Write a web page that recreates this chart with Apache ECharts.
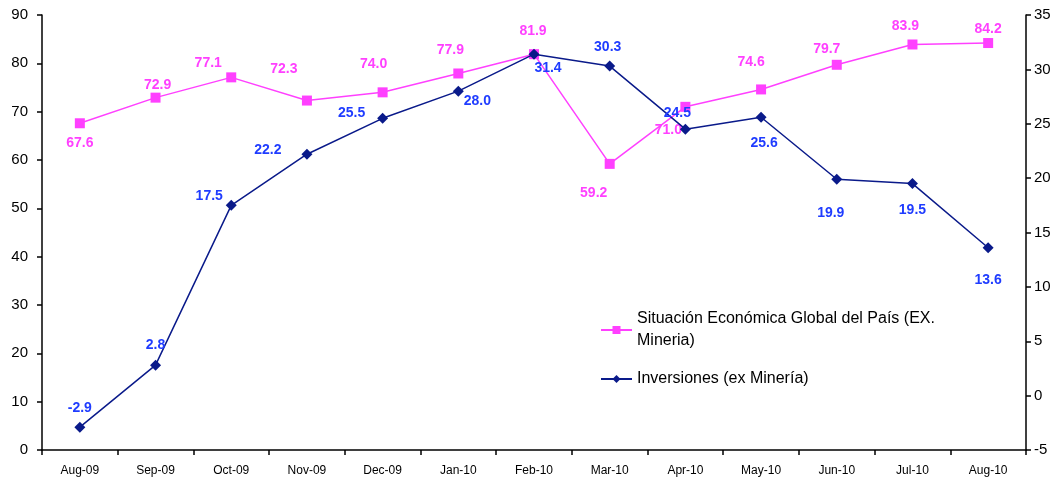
<!DOCTYPE html>
<html lang="es">

<head>
    <meta charset="utf-8">
    <title>Situación Económica e Inversiones</title>
    <script type="text/javascript" src="https://cdn.jsdelivr.net/npm/echarts@6/dist/echarts.min.js"></script>
    <style>
        html, body { margin: 0; padding: 0; background: #fff; }
        #chart { width: 1062px; height: 483px; }
    </style>
</head>

<body>
    <div id="chart"></div>

    <script>
        // data
        const months = ['Aug-09', 'Sep-09', 'Oct-09', 'Nov-09', 'Dec-09', 'Jan-10', 'Feb-10',
            'Mar-10', 'Apr-10', 'May-10', 'Jun-10', 'Jul-10', 'Aug-10'];
        const situacion = [67.6, 72.9, 77.1, 72.3, 74.0, 77.9, 81.9, 59.2, 71.0, 74.6, 79.7, 83.9, 84.2];
        const inversiones = [-2.9, 2.8, 17.5, 22.2, 25.5, 28.0, 31.4, 30.3, 24.5, 25.6, 19.9, 19.5, 13.6];

        const situacionName = 'Situación Económica Global del País (EX. Mineria)';
        const inversionesName = 'Inversiones (ex Minería)';

        // where each value label sits relative to its marker (px)
        const pinkLabelOffset = [[0, 20], [2, -13], [-23, -14], [-23, -31], [-9, -28], [-8, -23], [-1, -23],
            [-16, 29], [-17, 23], [-10, -27], [-10, -16], [-7, -18], [0, -14]];
        const blueLabelOffset = [[0, -19], [0, -20], [-22, -9], [-39, -4], [-31, -5], [19, 10], [14, 14],
            [-2, -19], [-8, -16], [3, 26], [-6, 34], [0, 27], [0, 32]];

        const pink = '#ff40ff';
        const navy = '#0a1a8a';
        const blueText = '#1f3cff';
        const font = 'Liberation Sans, Arial, sans-serif';

        function withLabels(values, offsets) {
            return values.map(function (v, i) {
                return { value: v, label: { offset: offsets[i] } };
            });
        }

        const chart = echarts.init(document.getElementById('chart'));

        const axisLine = { show: true, lineStyle: { color: '#000', width: 1.5 } };
        const axisTick = { show: true, length: 5, lineStyle: { color: '#000', width: 1.5 } };

        const option = {
            animation: false,
            backgroundColor: '#fff',
            textStyle: { fontFamily: font },
            grid: { left: 42, right: 36, top: 15, bottom: 33, containLabel: false },
            legend: {
                orient: 'vertical',
                left: 595,
                top: 303,
                itemGap: 16,
                itemWidth: 31,
                itemHeight: 10,
                data: [situacionName, inversionesName],
                textStyle: { color: '#000', fontSize: 16, lineHeight: 22, fontFamily: font },
                formatter: function (name) {
                    return name === situacionName
                        ? 'Situación Económica Global del País (EX.\nMineria)'
                        : name;
                }
            },
            xAxis: {
                type: 'category',
                data: months,
                boundaryGap: true,
                axisLine: axisLine,
                axisTick: axisTick,
                axisLabel: { color: '#000', fontSize: 12, margin: 15, fontFamily: font }
            },
            yAxis: [
                {
                    type: 'value', position: 'left', min: 0, max: 90, interval: 10,
                    axisLine: axisLine, axisTick: axisTick, splitLine: { show: false },
                    axisLabel: { color: '#000', fontSize: 15, margin: 14, fontFamily: font }
                },
                {
                    type: 'value', position: 'right', min: -5, max: 35, interval: 5,
                    axisLine: axisLine, axisTick: axisTick, splitLine: { show: false },
                    axisLabel: { color: '#000', fontSize: 15, margin: 8, fontFamily: font }
                }
            ],
            series: [
                {
                    name: situacionName,
                    type: 'line',
                    yAxisIndex: 0,
                    data: withLabels(situacion, pinkLabelOffset),
                    symbol: 'rect',
                    symbolSize: 10,
                    lineStyle: { color: pink, width: 1.5 },
                    itemStyle: { color: pink },
                    label: {
                        show: true,
                        position: 'inside',
                        color: pink,
                        fontSize: 14,
                        fontWeight: 'bold',
                        formatter: function (p) { return p.value.toFixed(1); }
                    },
                    z: 2
                },
                {
                    name: inversionesName,
                    type: 'line',
                    yAxisIndex: 1,
                    data: withLabels(inversiones, blueLabelOffset),
                    symbol: 'diamond',
                    symbolSize: 11,
                    lineStyle: { color: navy, width: 1.5 },
                    itemStyle: { color: navy },
                    label: {
                        show: true,
                        position: 'inside',
                        color: blueText,
                        fontSize: 14,
                        fontWeight: 'bold',
                        formatter: function (p) { return p.value.toFixed(1); }
                    },
                    z: 3
                }
            ]
        };

        chart.setOption(option);
    </script>
</body>

</html>
